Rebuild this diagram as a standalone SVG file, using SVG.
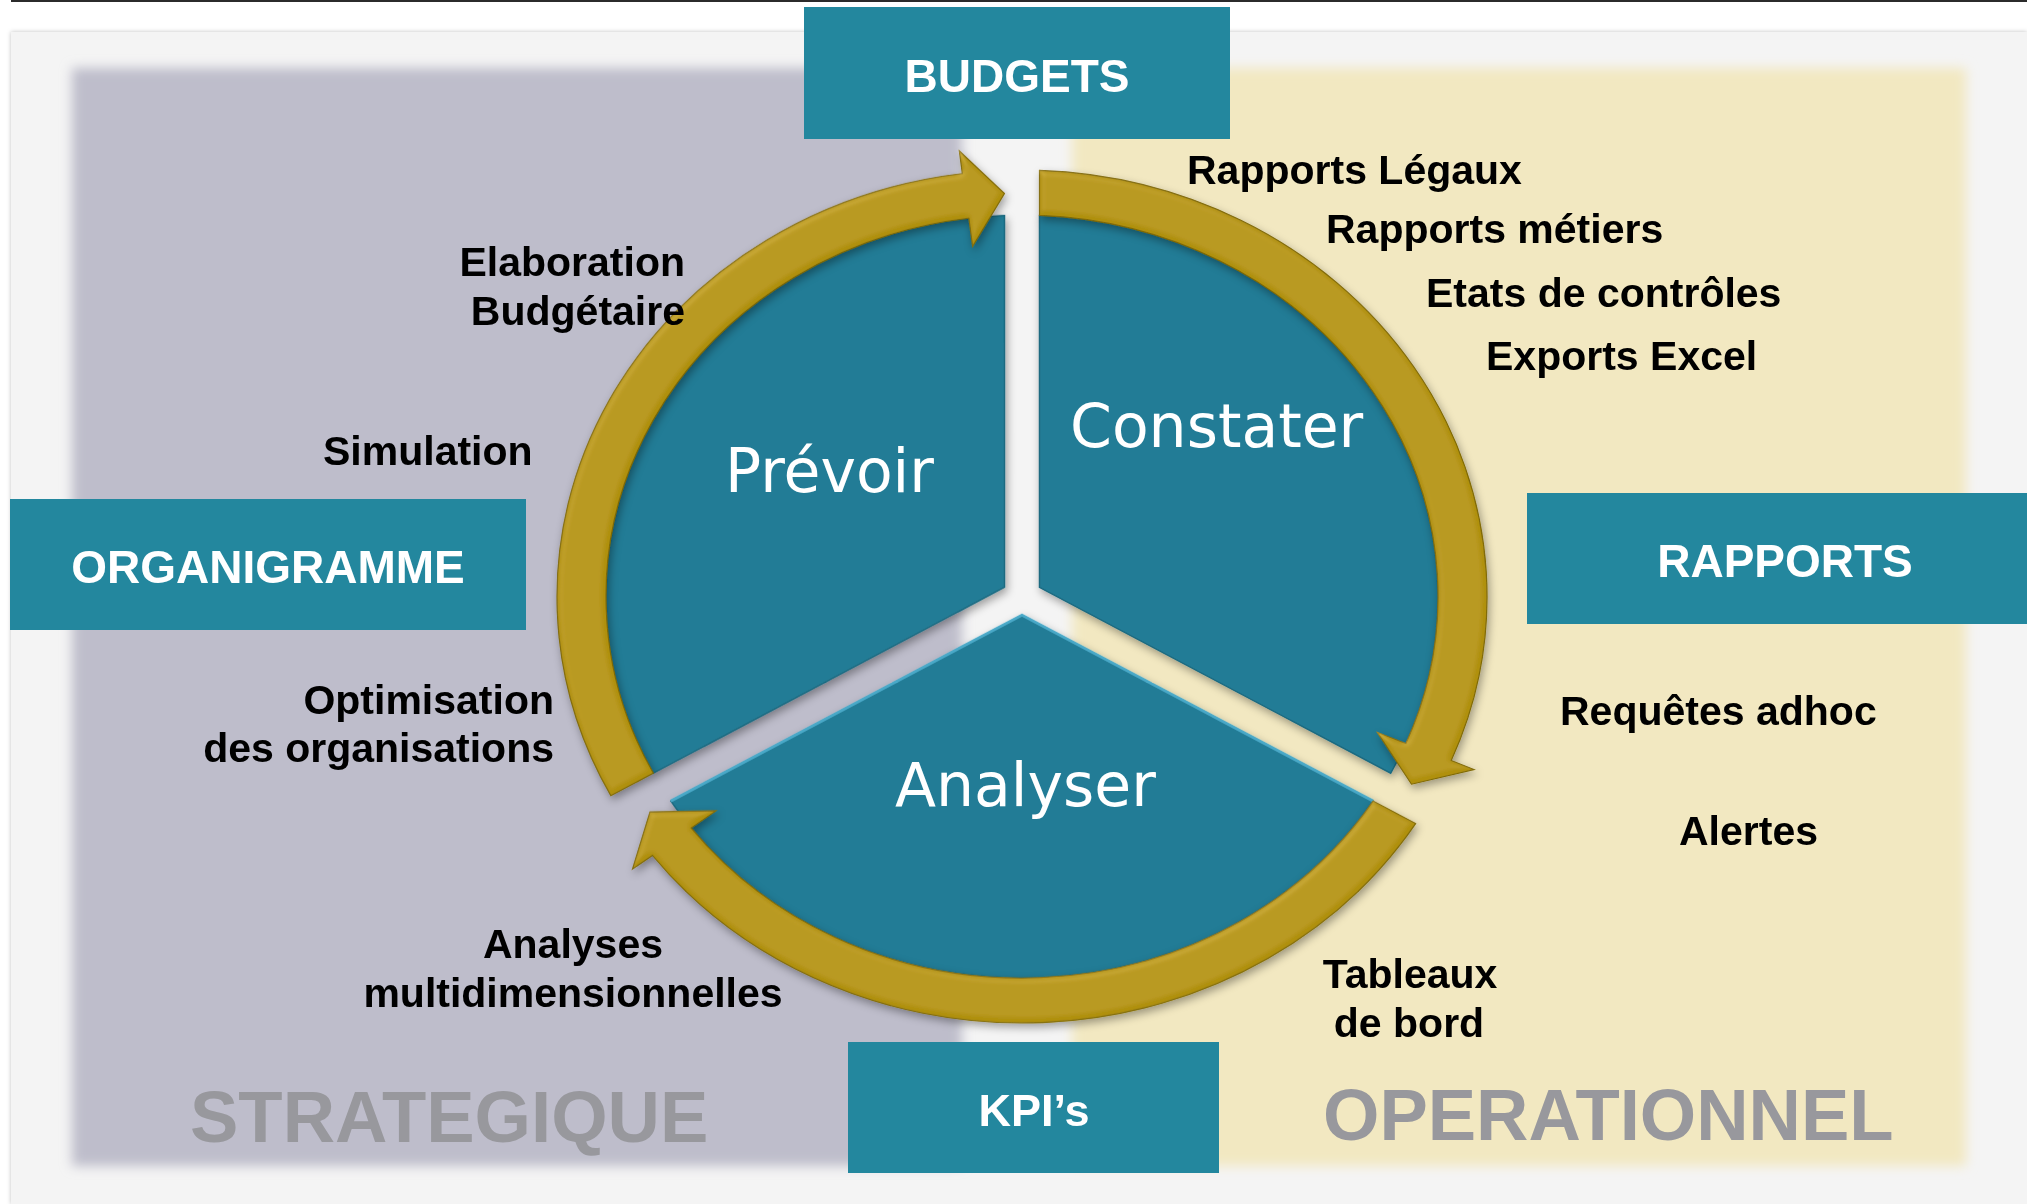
<svg xmlns="http://www.w3.org/2000/svg" xmlns:xlink="http://www.w3.org/1999/xlink" width="2027" height="1204" viewBox="0 0 2027 1204">
<style>
.box{fill:#23879e}
.boxtxt{font-family:"Liberation Sans",Arial,sans-serif;font-weight:bold;font-size:46px;fill:#ffffff;text-anchor:middle}
.lbl{font-family:"Liberation Sans",Arial,sans-serif;font-weight:bold;font-size:41px;fill:#000000}
.big{font-family:"Liberation Sans",Arial,sans-serif;font-weight:bold;font-size:72.5px;fill:#98989d}
.pie{font-family:"DejaVu Sans",Verdana,sans-serif;font-size:60px;fill:#ffffff}
.sector{fill:#227c96;stroke:#1c6a80;stroke-width:1.5}
.ring{fill:#b0900e;stroke:#806a07;stroke-width:1.2}
</style>
<defs>
<filter id="soft" x="-5%" y="-5%" width="110%" height="110%"><feGaussianBlur stdDeviation="6"/></filter>
<filter id="panelShadow" x="-2%" y="-2%" width="104%" height="104%"><feDropShadow dx="0" dy="0" stdDeviation="2" flood-color="#000" flood-opacity="0.25"/></filter>
<filter id="pieShadow" x="-10%" y="-10%" width="120%" height="120%"><feDropShadow dx="2" dy="4" stdDeviation="4" flood-color="#000" flood-opacity="0.35"/></filter>
<filter id="gold" x="-10%" y="-10%" width="120%" height="120%">
<feGaussianBlur in="SourceAlpha" stdDeviation="3" result="b"/>
<feSpecularLighting in="b" surfaceScale="3" specularConstant="0.5" specularExponent="14" lighting-color="#ffe680" result="s"><feDistantLight azimuth="235" elevation="50"/></feSpecularLighting>
<feComposite in="s" in2="SourceAlpha" operator="in" result="si"/>
<feComposite in="SourceGraphic" in2="si" operator="arithmetic" k1="0" k2="1" k3="0.25" k4="0" result="lit"/>
<feDropShadow in="lit" dx="2" dy="4" stdDeviation="4" flood-color="#000" flood-opacity="0.35"/>
</filter>
<path id="sector" d="M17.5 -10.1 L17.5 -415.63 A416 416 0 0 1 368.69 192.67 Z"/>
<path id="ringseg" d="M17.5 -464.67 A465 465 0 0 1 429.2 178.9 L452.1 188.7 L389.5 204.66 L355.3 148.1 L383.9 160.3 A416 416 0 0 0 17.5 -415.63 Z"/>
</defs>

<!-- background -->
<rect x="0" y="0" width="2027" height="1204" fill="#ffffff"/>
<rect x="11" y="0" width="2016" height="2" fill="#2b2b2b"/>
<rect x="11" y="32" width="2016" height="1172" fill="#f4f4f4" filter="url(#panelShadow)"/>
<rect x="72" y="68" width="890" height="1098" fill="#bebdcb" filter="url(#soft)"/>
<rect x="1072" y="68" width="894" height="1098" fill="#f2e8c1" filter="url(#soft)"/>

<!-- pie sectors -->
<g filter="url(#pieShadow)">
<g transform="translate(1022 596.5) scale(1 0.917)">
<g id="node-constater"><use xlink:href="#sector" class="sector"/></g>
<g id="node-analyser"><use xlink:href="#sector" class="sector" transform="rotate(120)"/>
<path d="M17.5 -415.63 L17.5 -10.1 L368.69 192.67" fill="none" stroke="#4aa9c8" stroke-width="3" transform="rotate(120)"/></g>
<g id="node-prevoir"><use xlink:href="#sector" class="sector" transform="rotate(240)"/></g>
</g>
</g>

<!-- ring arrows -->
<g id="connectors" filter="url(#gold)">
<g transform="translate(1022 596.5) scale(1 0.917)">
<use xlink:href="#ringseg" class="ring"/>
<use xlink:href="#ringseg" class="ring" transform="rotate(120)"/>
<use xlink:href="#ringseg" class="ring" transform="rotate(240)"/>
</g>
</g>

<!-- pie labels -->
<g id="label-prevoir"><text class="pie" x="725" y="492">Prévoir</text></g>
<g id="label-constater"><text class="pie" x="1070" y="447">Constater</text></g>
<g id="label-analyser"><text class="pie" x="895" y="806">Analyser</text></g>

<!-- boxes -->
<g id="node-budgets"><rect class="box" x="804" y="7" width="426" height="132"/><text class="boxtxt" x="1017" y="92">BUDGETS</text></g>
<g id="node-organigramme"><rect class="box" x="10" y="499" width="516" height="131"/><text class="boxtxt" x="268" y="583">ORGANIGRAMME</text></g>
<g id="node-rapports"><rect class="box" x="1527" y="493" width="500" height="131"/><text class="boxtxt" x="1785" y="577">RAPPORTS</text></g>
<g id="node-kpis"><rect class="box" x="848" y="1042" width="371" height="131"/><text class="boxtxt" x="1034" y="1126" style="font-size:45px">KPI’s</text></g>

<!-- left labels -->
<g id="labels-strategique">
<text class="lbl" x="685" y="276" text-anchor="end">Elaboration</text>
<text class="lbl" x="685" y="325" text-anchor="end">Budgétaire</text>
<text class="lbl" x="323" y="465">Simulation</text>
<text class="lbl" x="554" y="714" text-anchor="end">Optimisation</text>
<text class="lbl" x="554" y="762" text-anchor="end">des organisations</text>
<text class="lbl" x="573" y="958" text-anchor="middle">Analyses</text>
<text class="lbl" x="573" y="1007" text-anchor="middle">multidimensionnelles</text>
<text class="big" x="190" y="1142">STRATEGIQUE</text>
</g>

<!-- right labels -->
<g id="labels-operationnel">
<text class="lbl" x="1187" y="184">Rapports Légaux</text>
<text class="lbl" x="1326" y="243">Rapports métiers</text>
<text class="lbl" x="1426" y="307">Etats de contrôles</text>
<text class="lbl" x="1486" y="370">Exports Excel</text>
<text class="lbl" x="1560" y="725">Requêtes adhoc</text>
<text class="lbl" x="1679" y="845">Alertes</text>
<text class="lbl" x="1410" y="988" text-anchor="middle">Tableaux</text>
<text class="lbl" x="1409" y="1037" text-anchor="middle">de bord</text>
<text class="big" x="1323" y="1140">OPERATIONNEL</text>
</g>
</svg>
